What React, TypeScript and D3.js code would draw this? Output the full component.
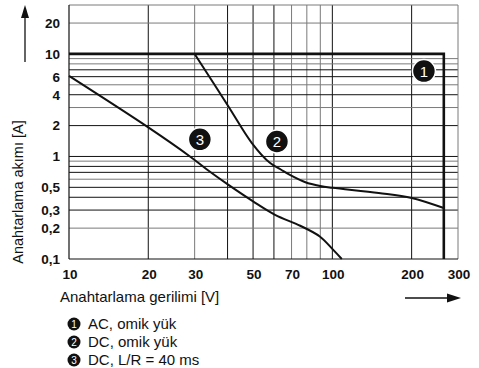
import React from "react";
import * as d3 from "d3";

const W = 479;
const H = 368;

// axis ticks
const xGridValues = [20, 30, 40, 50, 60, 70, 80, 90, 100, 200];
const xGridDark = [true, false, true, true, true, false, false, false, true, true];
const xTickLabels = [10, 20, 30, 50, 70, 100, 200, 300];
const yGridValues = [0.2, 0.3, 0.4, 0.5, 0.6, 0.7, 0.8, 0.9, 1, 2, 3, 4, 5, 6, 7, 8, 9, 20];
const yGridDark = [false, true, true, true, false, true, true, false, true, true, false, true, false, true, true, false, false, false];
const yTickValues = [0.1, 0.2, 0.3, 0.5, 1, 2, 4, 6, 10, 20];
const yTickLabels = ["0,1", "0,2", "0,3", "0,5", "1", "2", "4", "6", "10", "20"];

// series: curve 1 (AC, omik yük)
const c1V = [10, 265, 265];
const c1I = [10, 10, 0.1];
// curve 2 (DC, omik yük)
const c2V = [30, 40.2, 49.4, 57.9, 63.7, 69, 79, 90, 100, 150, 200, 265];
const c2I = [10, 3.11, 1.36, 0.867, 0.746, 0.66, 0.56, 0.515, 0.495, 0.44, 0.394, 0.314];
// curve 3 (DC, L/R = 40 ms)
const c3V = [10, 20, 28.8, 33.3, 40.2, 50, 60.6, 75.5, 89.6, 101, 108.6];
const c3I = [6.1, 1.92, 1.0, 0.75, 0.531, 0.365, 0.27, 0.211, 0.166, 0.122, 0.1];

const legendItems = ["AC, omik yük", "DC, omik yük", "DC, L/R = 40 ms"];
// callout markers
const calloutLabels = ["1", "2", "3"];
const calloutV = [222.7, 61.6, 31.4];
const calloutI = [6.8, 1.4, 1.47];

const FONT = "'Liberation Sans', Arial, Helvetica, sans-serif";

export default function App() {
  const x = d3.scaleLog().domain([10, 300]).range([69, 458]);
  const y = d3.scaleLog().domain([0.1, 30]).range([259, 5]);

  const lineLin = d3
    .line<[number, number]>()
    .x((d) => x(d[0]))
    .y((d) => y(d[1]));
  const lineSmooth = d3
    .line<[number, number]>()
    .x((d) => x(d[0]))
    .y((d) => y(d[1]))
    .curve(d3.curveCatmullRom.alpha(0.5));

  const c1 = c1V.map((v, i) => [v, c1I[i]] as [number, number]);
  const c2 = c2V.map((v, i) => [v, c2I[i]] as [number, number]);
  const c3 = c3V.map((v, i) => [v, c3I[i]] as [number, number]);

  const [x0, x1] = x.range();
  const [y0, y1] = y.range();

  return (
    <svg
      width={W}
      height={H}
      style={{ position: "absolute", left: 0, top: 0, background: "#fff" }}
      fontFamily={FONT}
    >
      {/* grid */}
      {xGridValues.map((v, i) => (
        <line
          key={"xg" + v}
          x1={x(v)}
          x2={x(v)}
          y1={y0}
          y2={y1}
          stroke={xGridDark[i] ? "#111" : "#7a7a7a"}
          strokeWidth={1}
        />
      ))}
      {yGridValues.map((v, i) => (
        <line
          key={"yg" + v}
          x1={x0}
          x2={x1}
          y1={y(v)}
          y2={y(v)}
          stroke={yGridDark[i] ? "#111" : "#7a7a7a"}
          strokeWidth={1}
        />
      ))}
      {/* frame */}
      <line x1={x0} x2={x1} y1={y1} y2={y1} stroke="#7a7a7a" strokeWidth={1} />
      <line x1={x1} x2={x1} y1={y0} y2={y1} stroke="#7a7a7a" strokeWidth={1} />
      <line x1={x0} x2={x0} y1={y0} y2={y1} stroke="#111" strokeWidth={1.2} />
      <line x1={x0} x2={x1} y1={y0} y2={y0} stroke="#111" strokeWidth={1.2} />

      {/* curves */}
      <path d={lineLin(c1) || ""} fill="none" stroke="#111" strokeWidth={2.6} />
      <path d={lineSmooth(c2) || ""} fill="none" stroke="#111" strokeWidth={2} />
      <path d={lineSmooth(c3) || ""} fill="none" stroke="#111" strokeWidth={2} />

      {/* callouts */}
      {calloutLabels.map((l, i) => (
        <g key={"c" + l} transform={`translate(${x(calloutV[i])},${y(calloutI[i])})`}>
          <circle r={11.5} fill="#111" stroke="#fff" strokeWidth={1.5} />
          <text textAnchor="middle" dy="0.36em" fill="#fff" fontSize={15}>
            {l}
          </text>
        </g>
      ))}

      {/* y ticks */}
      {yTickValues.map((v, i) => (
        <text
          key={"yt" + v}
          x={60}
          y={y(v)}
          dy="0.36em"
          textAnchor="end"
          fontSize={13.5}
          fontWeight="bold"
          fill="#111"
        >
          {yTickLabels[i]}
        </text>
      ))}
      {/* x ticks */}
      {xTickLabels.map((v) => (
        <text
          key={"xt" + v}
          x={x(v) + 1}
          y={279}
          textAnchor="middle"
          fontSize={13.5}
          fontWeight="bold"
          fill="#111"
        >
          {v}
        </text>
      ))}

      {/* axis titles */}
      <text
        transform={`translate(23,192) rotate(-90)`}
        textAnchor="middle"
        fontSize={14.5}
        fill="#111"
      >
        Anahtarlama akımı [A]
      </text>
      <text x={60} y={302} fontSize={15} fill="#111">
        Anahtarlama gerilimi [V]
      </text>

      {/* arrows */}
      <line x1={25} x2={25} y1={62} y2={15} stroke="#111" strokeWidth={1.3} />
      <path d="M25,5 L21,18 L29,18 Z" fill="#111" />
      <line x1={405} x2={450} y1={298} y2={298} stroke="#111" strokeWidth={1.3} />
      <path d="M461,298 L447,293.5 L447,302.5 Z" fill="#111" />

      {/* legend */}
      {legendItems.map((t, i) => (
        <g key={"lg" + i} transform={`translate(74,${324 + i * 18})`}>
          <circle r={6.5} fill="#111" />
          <text textAnchor="middle" dy="0.36em" fontSize={10} fill="#fff">
            {i + 1}
          </text>
          <text x={14} dy="0.36em" fontSize={15} fill="#111">
            {t}
          </text>
        </g>
      ))}
    </svg>
  );
}
